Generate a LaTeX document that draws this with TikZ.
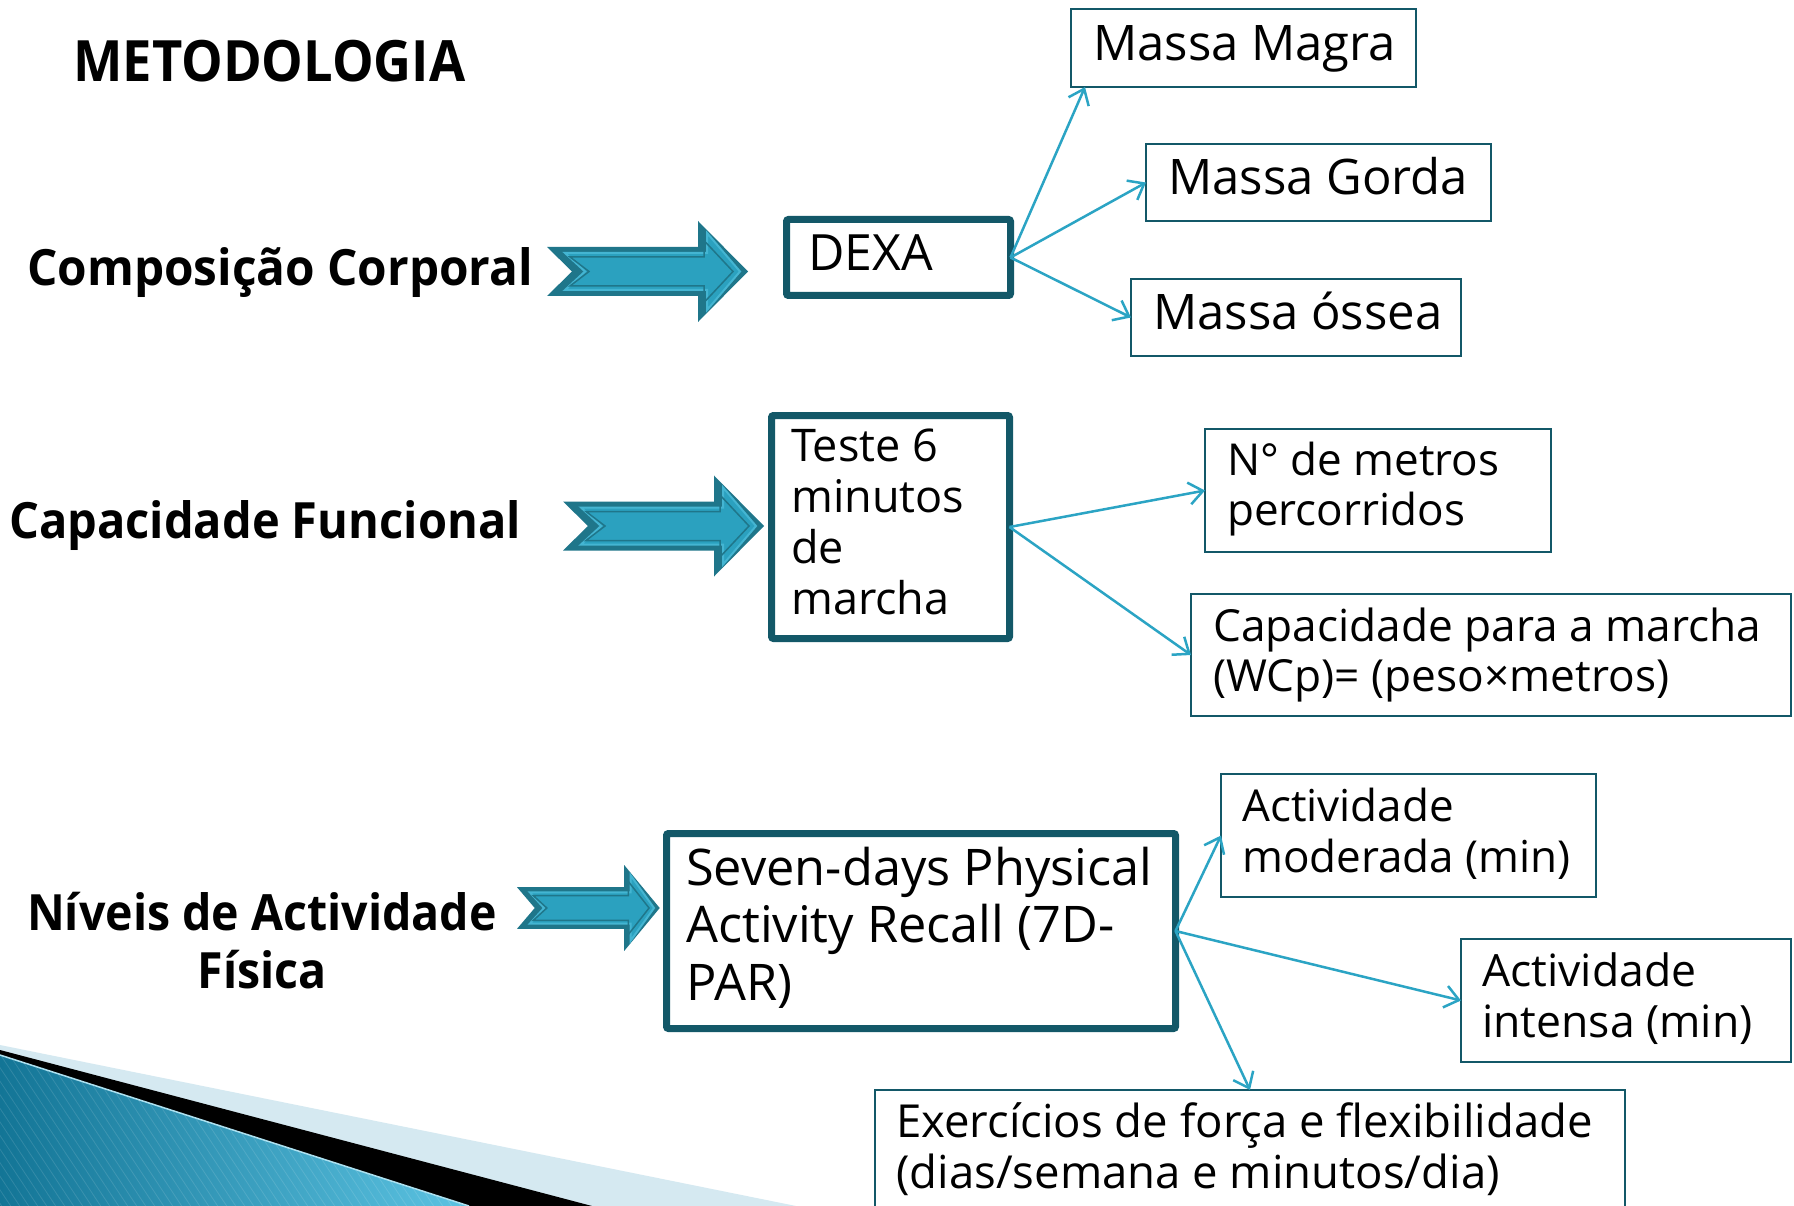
\documentclass[tikz,border=0pt]{standalone}
\usepackage{fontspec}
\setmainfont{Open Sans}
\usetikzlibrary{arrows.meta,calc}
\definecolor{boxc}{HTML}{135868}
\definecolor{connc}{HTML}{2BA4C4}
\definecolor{arrdark}{HTML}{1F768A}
\definecolor{arrlight}{HTML}{2BA1BF}
\definecolor{arrline}{HTML}{44B5D2}
\definecolor{bandlight}{HTML}{D5E9F1}
\definecolor{bluedark}{HTML}{137596}
\definecolor{bluelight}{HTML}{5CC3E2}
\newcommand{\fs}[2]{\fontsize{#1}{#2}\selectfont}
\newcommand{\blockarr}[4]{%
 \begin{scope}[shift={(#1,#2)},xscale=#3,yscale=#4]
 \fill[arrdark] (0,-24.5) -- (151,-24.5) -- (151,-50.5) -- (201,0) -- (151,50.5) -- (151,24.5) -- (0,24.5) -- (25,0) -- cycle;
 \filldraw[fill=arrlight, draw=arrline, line width=2pt] (18,-18.5) -- (160,-18.5) -- (160,-38.5) -- (193,0) -- (160,38.5) -- (160,18.5) -- (18,18.5) -- (38,0) -- cycle;
 \draw[arrdark, line width=1.5pt] (23,-14.5) -- (157,-14.5) -- (157,-31) -- (186,0) -- (157,31) -- (157,14.5) -- (23,14.5) -- (42,0) -- cycle;
 \end{scope}}
\begin{document}
\begin{tikzpicture}[x=1pt,y=-1pt,
  thinbox/.style={draw=boxc,line width=2.5pt,inner sep=0pt,outer sep=0pt,anchor=north west},
  thickbox/.style={draw=boxc,line width=7pt,rounded corners=2pt,inner sep=0pt,outer sep=0pt,anchor=north west},
  txt/.style={inner sep=0pt,anchor=base west},
  conn/.style={draw=connc,line width=2.5pt,-{Straight Barb[length=14pt,width=22pt]}}]
\useasboundingbox (0,0) rectangle (1794,1206);
\clip (0,0) rectangle (1794,1206);
\fill[white] (0,0) rectangle (1794,1206);

% bottom-left decoration
\fill[bandlight] (0,1045) -- (796,1206) -- (0,1206) -- cycle;
\fill[black] (0,1050) -- (592,1206) -- (0,1206) -- cycle;
\shade[left color=bluedark,right color=bluelight] (0,1055) -- (469,1206) -- (0,1206) -- cycle;
\begin{scope}
\clip (0,1055) -- (469,1206) -- (0,1206) -- cycle;
\foreach \i in {-150,-141,...,470} \draw[white,opacity=0.12,line width=0.8pt] (\i,1045) -- ++(110,166);
\end{scope}
\draw[bluelight!50!white,line width=1.5pt] (0,1055) -- (469,1206);

% title and row labels
\node[txt] (title) at (73,82) {\fs{57}{60}\bfseries\scalebox{0.92}[1]{METODOLOGIA}};
\node[txt] (comp) at (27,286) {\fs{50}{60}\bfseries\scalebox{0.955}[1]{Composição Corporal}};
\node[txt] (capf) at (9,538) {\fs{50}{60}\bfseries\scalebox{0.94}[1]{Capacidade Funcional}};
\node[inner sep=0pt,anchor=base] (niveis) at (262,930) {\fs{50}{58}\bfseries\scalebox{0.93}[1]{\vtop{\halign{\hfil#\hfil\cr Níveis de Actividade\cr Física\cr}}}};

% block arrows
\blockarr{547}{271.5}{1}{1}
\blockarr{563}{526}{1}{1}
\blockarr{517}{908}{0.71}{0.85}

% row 1
\node[thickbox,minimum width=224pt,minimum height=76pt] (dexa) at (786.5,219.5) {};
\node[txt] (dexat) at (808,271) {\fs{50}{60}DEXA};
\node[thinbox,minimum width=345pt,minimum height=78pt] (mm) at (1071,9) {};
\node[txt] (mmt) at (1093,61) {\fs{49}{58}Massa Magra};
\node[thinbox,minimum width=345pt,minimum height=77pt] (mg) at (1146,144) {};
\node[txt] (mgt) at (1168,195) {\fs{49}{58}Massa Gorda};
\node[thinbox,minimum width=330pt,minimum height=77pt] (mo) at (1131,279) {};
\node[txt] (mot) at (1153,330) {\fs{49}{58}Massa óssea};

% row 2
\node[thickbox,minimum width=238pt,minimum height=223pt] (teste) at (771.5,415.5) {};
\node[txt] (testet) at (791,461) {\fs{45}{51}\vtop{\hbox{Teste 6}\hbox{minutos}\hbox{de}\hbox{marcha}}};
\node[thinbox,minimum width=346pt,minimum height=123pt] (nm) at (1205,429) {};
\node[txt] (nmt) at (1227,475) {\fs{44}{50}\vtop{\hbox{N° de metros}\hbox{percorridos}}};
\node[thinbox,minimum width=600pt,minimum height=122pt] (cap) at (1191,594) {};
\node[txt] (capt) at (1213,641) {\fs{44.2}{50}\vtop{\hbox{Capacidade para a marcha}\hbox{(WCp)= (peso×metros)}}};

% row 3
\node[thickbox,minimum width=509pt,minimum height=195pt] (par) at (666.5,833.5) {};
\node[txt] (part) at (686,885) {\fs{50.5}{57.5}\vtop{\hbox{Seven-days Physical}\hbox{Activity Recall (7D-}\hbox{PAR)}}};
\node[thinbox,minimum width=375pt,minimum height=123pt] (actm) at (1221,774) {};
\node[txt] (actmt) at (1242,821) {\fs{44}{51}\vtop{\hbox{Actividade}\hbox{moderada (min)}}};
\node[thinbox,minimum width=330pt,minimum height=123pt] (acti) at (1461,939) {};
\node[txt] (actit) at (1482,986) {\fs{44.5}{51}\vtop{\hbox{Actividade}\hbox{intensa (min)}}};
\node[thinbox,minimum width=750pt,minimum height=200pt] (ex) at (875,1090) {};
\node[txt] (ext) at (896,1137) {\fs{45.5}{51}\vtop{\hbox{Exercícios de força e flexibilidade}\hbox{(dias/semana e minutos/dia)}}};

% connectors
\draw[conn] (dexa.east) -- ([xshift=14pt]mm.south west);
\draw[conn] (dexa.east) -- (mg.west);
\draw[conn] (dexa.east) -- (mo.west);
\draw[conn] (teste.east) -- (nm.west);
\draw[conn] (teste.east) -- (cap.west);
\draw[conn] (par.east) -- (actm.west);
\draw[conn] (par.east) -- (acti.west);
\draw[conn] (par.east) -- (ex.north);
\end{tikzpicture}
\end{document}
